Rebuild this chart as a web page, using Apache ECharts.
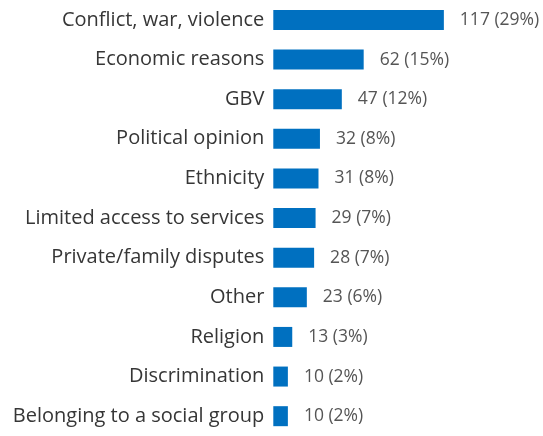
<!DOCTYPE html>
<html>
<head>
<meta charset="utf-8">
<script src="https://cdn.jsdelivr.net/npm/echarts@6/dist/echarts.min.js"></script>
<style>
  html, body { margin: 0; padding: 0; background: #ffffff; }
  #chart { width: 543px; height: 436px; }
</style>
</head>
<body>
<div id="chart"></div>
<script>
// Reasons for displacement, top to bottom
const categories = [
  'Conflict, war, violence',
  'Economic reasons',
  'GBV',
  'Political opinion',
  'Ethnicity',
  'Limited access to services',
  'Private/family disputes',
  'Other',
  'Religion',
  'Discrimination',
  'Belonging to a social group'
];
const counts = [117, 62, 47, 32, 31, 29, 28, 23, 13, 10, 10];
const shares = [29, 15, 12, 8, 8, 7, 7, 6, 3, 2, 2];

const chart = echarts.init(document.getElementById('chart'), null, { renderer: 'canvas' });
const FONT = '"Open Sans", Lato, sans-serif';

chart.setOption({
  animation: false,
  grid: { left: 273.3, top: 0.1, width: 270.1, height: 443.5, containLabel: false },
  xAxis: {
    type: 'value', min: 0, max: 185, show: false
  },
  yAxis: {
    type: 'category',
    inverse: true,
    data: categories,
    axisLine: { show: false },
    axisTick: { show: false },
    splitLine: { show: false },
    axisLabel: {
      margin: 9,
      color: '#363636',
      fontSize: 20,
      fontFamily: FONT
    }
  },
  series: [{
    type: 'bar',
    data: counts,
    barWidth: 20,
    itemStyle: { color: '#0070c0' },
    label: {
      show: true,
      position: 'right',
      distance: 16,
      color: '#555555',
      fontSize: 17.5,
      fontFamily: FONT,
      formatter: p => p.value + ' (' + shares[p.dataIndex] + '%)'
    }
  }]
});
</script>
</body>
</html>
